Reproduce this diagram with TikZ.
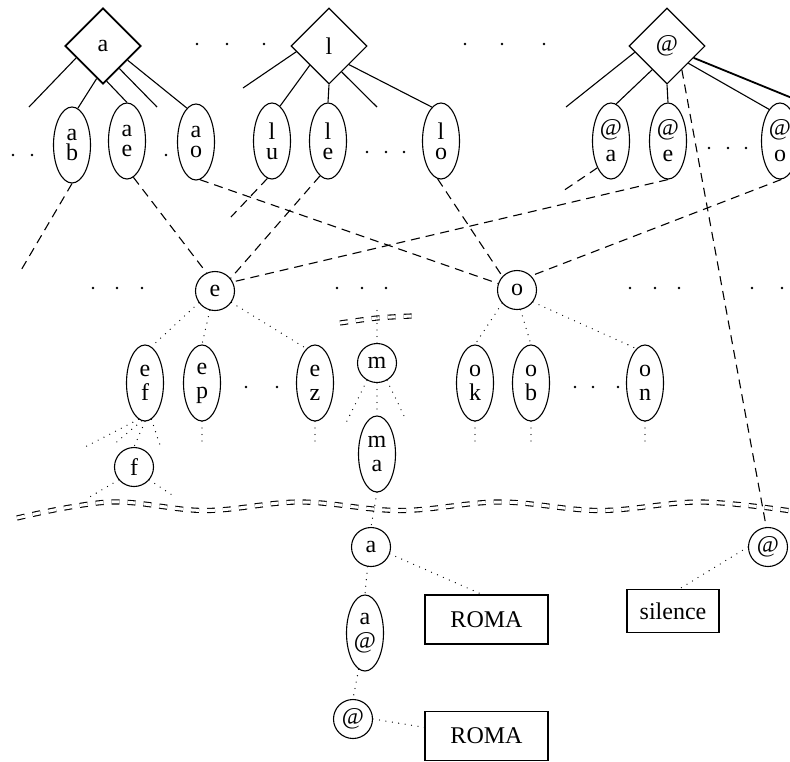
\documentclass[tikz,border=0pt]{standalone}
\usepackage{fontspec}
\setmainfont{Liberation Serif}
\usetikzlibrary{shapes.geometric,calc}

\begin{document}
\begin{tikzpicture}[x=1pt,y=-1pt,line width=1.1pt,
  every node/.style={font=\fontsize{24}{24}\selectfont, inner sep=0pt},
  dia/.style={diamond, draw, minimum width=76pt, minimum height=76pt, aspect=1},
  ell/.style={ellipse, draw, minimum width=37pt, minimum height=76pt, align=center},
  circ/.style={circle, draw, minimum size=39pt},
  box/.style={rectangle, draw, minimum width=123pt, minimum height=49pt},
  dsh/.style={dash pattern=on 9pt off 6pt},
  dts/.style={line cap=round, dash pattern=on 0pt off 6.5pt, line width=1.3pt},
  brk/.style={double, double distance=3pt, line width=1.1pt, dash pattern=on 8pt off 8pt},
  dot/.style={fill, circle, minimum size=2.8pt},
]
\useasboundingbox (0,0) rectangle (790,761);

% level break lines
\draw[brk] plot[smooth, tension=0.6] coordinates {(17,518) (110,502) (205,510.5) (300,502) (400,510.5) (500,502) (600,510.5) (700,502) (795,511.5)};
\draw[brk] plot[smooth] coordinates {(340,323) (377,318) (412,316)};

% top-level diamonds
\node[dia, line width=1.8pt] (a) at (103,46) {a};
\node[dia] (l) at (329,46) {l};
\node[dia] (at) at (667,46) {@};

% second-level ellipses
\node[ell] (ab) at (72,145) {a\\[-4pt]b};
\node[ell] (ae) at (127,141) {a\\[-4pt]e};
\node[ell] (ao) at (196,142) {a\\[-4pt]o};
\node[ell] (lu) at (272,141) {l\\[-4pt]u};
\node[ell] (le) at (328,141) {l\\[-4pt]e};
\node[ell] (lo) at (441,141) {l\\[-4pt]o};
\node[ell] (ata) at (611,141) {@\\[2pt]a};
\node[ell] (ate) at (668,141) {@\\[2pt]e};
\node[ell] (ato) at (780,141) {@\\[2pt]o};

% phoneme circles
\node[circ] (e) at (215,291) {e};
\node[circ] (o) at (517,290) {o};
\node[circ] (m) at (377,363) {m};
\node[circ] (f) at (134,467) {f};
\node[circ] (ac) at (371,547) {a};
\node[circ] (atc) at (353,719) {@};
\node[circ] (atsil) at (768,547) {@};

\node[ell] (ef) at (145,383) {e\\f};
\node[ell] (ep) at (202,383) {e\\p};
\node[ell] (ez) at (315,383) {e\\z};
\node[ell] (ok) at (475,383) {o\\k};
\node[ell] (ob) at (531,383) {o\\b};
\node[ell] (on) at (645,383) {o\\n};
\node[ell] (ma) at (377,454) {m\\a};
\node[ell] (aat) at (365,633) {a\\@};

% word boxes
\node[box] (roma1) at (486.5,619.5) {ROMA};
\node[box] (roma2) at (486.5,736) {ROMA};
\node[box, minimum width=92pt, minimum height=43pt] (sil) at (673,611) {silence};

% free ends of open branches
\coordinate (fa1) at (29,107);
\coordinate (fa4) at (157,107);
\coordinate (fl1) at (243,88);
\coordinate (fl4) at (377,107);
\coordinate (fat1) at (566,107);
\coordinate (fat5) at (792,98);
\coordinate (fab) at (20,272);
\coordinate (flu) at (231,217);
\coordinate (fata) at (563,191);
\coordinate (fef1) at (83,448);
\coordinate (fef2) at (112,446);
\coordinate (fef4) at (160,445);
\coordinate (ff1) at (88,498);
\coordinate (ff2) at (175,497);
\coordinate (fep) at (202,443);
\coordinate (fez) at (315,443);
\coordinate (fmt) at (377,307);
\coordinate (fml) at (345,425);
\coordinate (fmr) at (405,418);
\coordinate (fok) at (475,443);
\coordinate (fob) at (531,443);
\coordinate (fon) at (645,443);

% solid branches from the diamonds
\draw (a.204) -- (fa1);
\draw (a.259) -- (ab.81);
\draw (a.276) -- (ae.north);
\draw (a.306) -- (fa4);
\draw (a.330) -- (ao.105);
\draw (l.190) -- (fl1);
\draw (l.225) -- (lu.77);
\draw (l.south) -- (le.north);
\draw (l.296) -- (fl4);
\draw (l.317) -- (lo.105);
\draw (at.191) -- (fat1);
\draw (at.238) -- (ata.82);
\draw (at.south) -- (ate.north);
\draw (at.321) -- (ato.109);
\draw[line width=1.8pt] (at.336) -- (fat5);

% dashed links to the phoneme level
\draw[dsh] (ab.south) -- (fab);
\draw[dsh] (ae.280) -- (e.115);
\draw[dsh] (ao.276) -- (o.161);
\draw[dsh] (lu.263) -- (flu);
\draw[dsh] (le.257) -- (e.39);
\draw[dsh] (lo.265) -- (o.137);
\draw[dsh] (ata.243) -- (fata);
\draw[dsh] (ate.south) -- (e.27);
\draw[dsh] (ato.272) -- (o.45);
\draw[dsh] (at.302) -- (atsil.95);

% dotted links
\draw[dts] (e.216) -- (ef.80);
\draw[dts] (e.255) -- (ep.north);
\draw[dts] (e.325) -- (ez.104);
\draw[dts] (ef.260) -- (fef1);
\draw[dts] (ef.265) -- (fef2);
\draw[dts] (ef.south) -- (f.north);
\draw[dts] (ef.280) -- (fef4);
\draw[dts] (f.220) -- (ff1);
\draw[dts] (f.320) -- (ff2);
\draw[dts] (ep.south) -- (fep);
\draw[dts] (ez.south) -- (fez);
\draw[dts] (m.north) -- (fmt);
\draw[dts] (m.240) -- (fml);
\draw[dts] (m.300) -- (fmr);
\draw[dts] (m.south) -- (ma.north);
\draw[dts] (o.222) -- (ok.north);
\draw[dts] (o.280) -- (ob.north);
\draw[dts] (o.323) -- (on.104);
\draw[dts] (ok.south) -- (fok);
\draw[dts] (ob.south) -- (fob);
\draw[dts] (on.south) -- (fon);
\draw[dts] (ma.south) -- (ac.north);
\draw[dts] (ac.260) -- (aat.north);
\draw[dts] (ac.340) -- (roma1.100);
\draw[dts] (aat.260) -- (atc.north);
\draw[dts] (atc.east) -- (roma2.172);
\draw[dts] (atsil.180) -- (sil.74);

% ellipsis dots
\foreach \x in {197,227,264,465,502,544} \node[dot] at (\x,44) {};
\foreach \x in {13,32,166} \node[dot] at (\x,155) {};
\foreach \x in {367,386,404} \node[dot] at (\x,152) {};
\foreach \x in {709,728,746} \node[dot] at (\x,148) {};
\foreach \x in {93,117,142,337,362,386,630,655,679,752,782} \node[dot] at (\x,288) {};
\foreach \x in {246,277,575,593,618} \node[dot] at (\x,387) {};
\end{tikzpicture}
\end{document}
